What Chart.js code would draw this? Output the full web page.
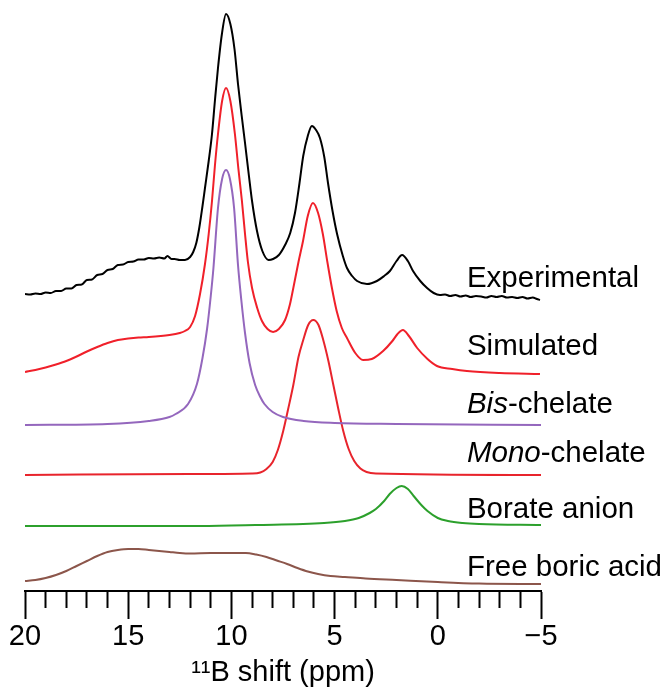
<!DOCTYPE html>
<html>
<head>
<meta charset="utf-8">
<script src="https://cdn.jsdelivr.net/npm/chart.js@4/dist/chart.umd.min.js"></script>
<style>
  html, body { margin: 0; padding: 0; background: #fff; }
  #wrap { width: 665px; height: 687px; position: relative; }
</style>
</head>
<body>
<div id="wrap"><canvas id="myChart"></canvas></div>
<script>
// 11B NMR spectra (ppm, intensity above each trace's baseline)
var traceNames = ['Experimental', 'Simulated', 'Bis-chelate', 'Mono-chelate', 'Borate anion', 'Free boric acid'];
var italicPart = ['', '', 'Bis', 'Mono', '', ''];

var expPpm = [20, 19.75, 19.5, 19.25, 19, 18.75, 18.5, 18.25, 18, 17.75, 17.5, 17.25, 17, 16.75, 16.5, 16.25, 16, 15.75, 15.5, 15.25, 15, 14.75, 14.5, 14.25, 14, 13.75, 13.5, 13.25, 13.1, 12.9, 12.75, 12.5, 12.25, 12, 11.85, 11.7, 11.55, 11.4, 11.28, 11.1, 10.94, 10.8, 10.65, 10.46, 10.26, 10.05, 9.85, 9.68, 9.5, 9.34, 9.15, 9, 8.76, 8.5, 8.2, 7.98, 7.7, 7.4, 7.15, 6.92, 6.7, 6.52, 6.3, 6.1, 5.9, 5.71, 5.5, 5.32, 5.1, 4.88, 4.6, 4.4, 4.15, 3.91, 3.43, 2.95, 2.6, 2.32, 2, 1.73, 1.45, 1.2, 0.85, 0.52, 0.2, -0.1, -0.35, -0.6, -0.85, -1.1, -1.35, -1.6, -1.85, -2.1, -2.35, -2.6, -2.85, -3.1, -3.35, -3.6, -3.85, -4.1, -4.35, -4.6, -4.8, -4.95];
var expVal = [7, 6.5, 7.5, 7, 8.5, 8, 10, 10, 12.5, 12.5, 16, 16.5, 21, 21.5, 26, 27, 31, 32, 36, 36.5, 39, 39.5, 41.5, 41.5, 43, 42.5, 43.5, 42.5, 45, 42, 42, 41, 41, 44, 49, 58, 74, 95, 113, 140, 167, 200, 233, 267, 287, 277, 252, 217, 185, 158, 125, 100, 70, 50, 41, 42, 46, 56, 68, 88, 118, 145, 165, 175, 171, 163, 144, 118, 90, 67, 45, 33, 25, 20, 17, 20, 25, 30, 40, 46, 40, 30, 20, 13, 8, 6, 6.5, 5, 6, 4.5, 5.5, 4, 5, 4.5, 3.5, 5, 4, 5, 3.5, 4, 3, 4, 2.5, 3.5, 2, 1];

var simPpm = [20, 19.5, 19, 18.5, 18, 17.5, 17, 16.5, 16, 15.5, 15, 14.5, 14, 13, 12.5, 12.25, 12, 11.76, 11.52, 11.28, 11.1, 10.94, 10.8, 10.65, 10.45, 10.26, 10.05, 9.83, 9.66, 9.49, 9.34, 9.2, 9, 8.75, 8.52, 8.25, 7.98, 7.7, 7.4, 7.16, 7, 6.75, 6.53, 6.3, 6.05, 5.8, 5.57, 5.35, 5.13, 4.9, 4.65, 4.4, 4, 3.62, 3.2, 2.65, 2.2, 1.95, 1.69, 1.4, 1, 0.5, 0.04, -0.7, -1.41, -3, -4.95];
var simVal = [2, 4, 6.5, 9.5, 13, 17.5, 22.5, 27, 31, 34, 35.5, 36.5, 37, 39, 41, 43, 47, 58, 80, 110, 140, 173, 208, 240, 273, 286, 273, 240, 205, 173, 140, 112, 86, 66, 53, 45, 42, 45, 54, 70, 86, 112, 133, 158, 171, 161, 140, 112, 86, 63, 46, 36, 21, 14, 15, 23, 33, 40, 44, 38, 26, 15, 8, 5, 3, 1, 0];

var bisPpm = [20, 16, 14, 13, 12.7, 12.1, 11.67, 11.4, 11.18, 11, 10.87, 10.65, 10.45, 10.26, 10.07, 9.87, 9.68, 9.52, 9.34, 9.12, 8.85, 8.6, 8.4, 8, 7.5, 6.5, 5, 2, -5];
var bisVal = [0, 1, 4, 8, 11, 21, 41, 67, 96, 129, 157, 217, 246, 255, 246, 217, 160, 125, 92, 62, 40, 28, 21, 13, 8, 4, 2, 1, 0];

var monoPpm = [20, 12, 9, 8.6, 8.3, 8, 7.75, 7.49, 7.25, 7, 6.75, 6.52, 6.28, 6.03, 5.78, 5.55, 5.3, 5.06, 4.82, 4.58, 4.32, 4.05, 3.75, 3.45, 3, -5];
var monoVal = [0, 1, 1.5, 2.5, 6, 13, 25, 44, 66, 90, 118, 135, 150, 155, 150, 135, 114, 90, 66, 44, 26, 14, 6.5, 3, 1.5, 0];

var borPpm = [20, 11.5, 8.83, 5.51, 4.5, 3.83, 3.3, 3, 2.6, 2.33, 2, 1.75, 1.45, 1.17, 0.8, 0.5, 0, -0.49, -1.2, -2, -5];
var borVal = [1, 1, 2, 4, 6, 9, 14, 18, 26, 33, 39, 41, 38, 31, 22, 16, 9, 6, 4, 3, 2];

var fbaPpm = [20, 19.5, 19, 18.5, 18, 17.5, 17, 16.5, 16, 15.5, 15, 14.5, 14, 13.5, 13, 12.5, 12, 11, 10, 9.3, 8.8, 8.3, 7.8, 7.3, 6.8, 6.3, 5.8, 5.2, 4.5, 3.5, 2, 0, -2, -5];
var fbaVal = [3, 4, 6, 9, 13, 18, 23, 28, 32, 34, 35, 35, 34, 33, 32, 31, 30.5, 31, 31, 31, 29.5, 27, 23.5, 20, 16, 12.5, 10, 8, 7, 5.5, 4, 2, 0.5, 0];

var tickValues = [20, 15, 10, 5, 0, -5];
var tickLabels = ['20', '15', '10', '5', '0', '\u22125'];

// stacking / layout
var baselines = [290, 217, 166, 116, 64, 7];
var labelLevels = [304, 236, 178, 129, 73, 15];
var colors = ['#000000', '#f0202a', '#9467bd', '#e8242c', '#2ca02c', '#8c564b'];

var series = [
  [expPpm, expVal], [simPpm, simVal], [bisPpm, bisVal],
  [monoPpm, monoVal], [borPpm, borVal], [fbaPpm, fbaVal]
];

var FONT = '"Liberation Sans", Arial, Helvetica, sans-serif';

var datasets = series.map(function (s, i) {
  return {
    label: traceNames[i],
    data: s[0].map(function (p, k) { return { x: p, y: s[1][k] + baselines[i] }; }),
    borderColor: colors[i],
    borderWidth: 2,
    pointRadius: 0,
    fill: false,
    cubicInterpolationMode: 'monotone'
  };
});

var traceLabels = {
  id: 'traceLabels',
  afterDatasetsDraw: function (chart) {
    var ctx = chart.ctx;
    var xs = chart.scales.x, ys = chart.scales.y;
    ctx.save();
    ctx.fillStyle = '#000';
    ctx.textBaseline = 'alphabetic';
    ctx.textAlign = 'left';
    traceNames.forEach(function (name, i) {
      var x = xs.getPixelForValue(-1.41);
      var y = ys.getPixelForValue(labelLevels[i]);
      var rest = name;
      if (italicPart[i]) {
        ctx.font = 'italic 29.5px ' + FONT;
        ctx.fillText(italicPart[i], x, y);
        x += ctx.measureText(italicPart[i]).width;
        rest = name.slice(italicPart[i].length);
      }
      ctx.font = '29.5px ' + FONT;
      ctx.fillText(rest, x, y);
    });
    ctx.restore();
  }
};

var ctx = document.getElementById('myChart').getContext('2d');
var myChart = new Chart(ctx, {
  type: 'line',
  data: { datasets: datasets },
  options: {
    responsive: true,
    maintainAspectRatio: false,
    animation: false,
    layout: { padding: { left: 25, right: 124, top: 0, bottom: 0 } },
    plugins: {
      legend: { display: false },
      tooltip: { enabled: false }
    },
    scales: {
      x: {
        type: 'linear',
        reverse: true,
        min: -5,
        max: 20,
        border: { display: true, color: '#000', width: 2 },
        grid: {
          drawOnChartArea: false,
          drawTicks: true,
          tickLength: 28,
          tickWidth: 2,
          tickColor: '#000',
          tickBorderDash: function (c) {
            return (c.tick && c.tick.value % 5 !== 0) ? [16, 100] : [];
          }
        },
        ticks: {
          stepSize: 1,
          autoSkip: false,
          maxRotation: 0,
          padding: 3,
          color: '#000',
          font: { family: FONT, size: 29, lineHeight: 1 },
          callback: function (v) {
            var k = tickValues.indexOf(v);
            return k >= 0 ? tickLabels[k] : '';
          }
        },
        title: {
          display: true,
          text: '\u00b9\u00b9B shift (ppm)',
          color: '#000',
          font: { family: FONT, size: 29, lineHeight: 1 },
          padding: { top: 4, bottom: 0 }
        }
      },
      y: {
        display: false,
        min: 0,
        max: 591
      }
    }
  },
  plugins: [traceLabels]
});
</script>
</body>
</html>
